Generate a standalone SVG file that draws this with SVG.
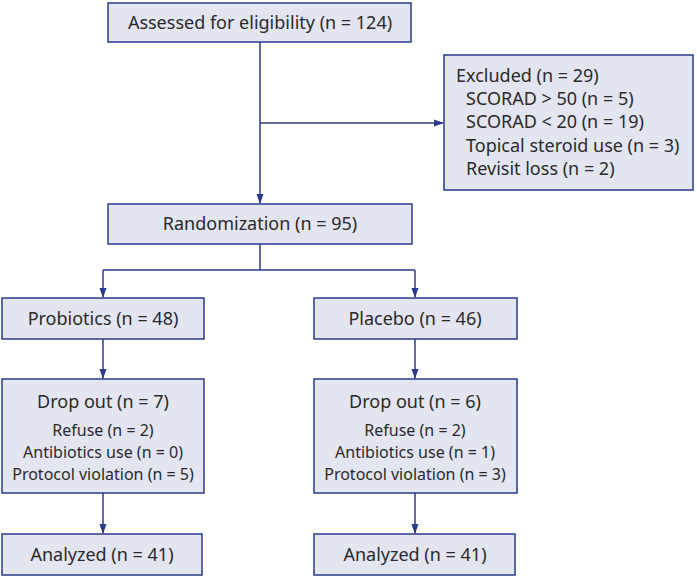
<svg xmlns="http://www.w3.org/2000/svg" width="697" height="577" viewBox="0 0 697 577">
<defs>
<marker id="ah" markerWidth="10" markerHeight="10" refX="9" refY="5" orient="auto" markerUnits="userSpaceOnUse">
<path d="M0,1.5 L10,5 L0,8.5 Z" fill="#2b3a8c"/>
</marker>
<style>
.box{fill:#e3e5f1;stroke:#2b3a8c;stroke-width:1.5}
.t{font-family:"Noto Sans","DejaVu Sans",sans-serif;font-size:18px;fill:#2a2a2a}
.s{font-family:"Noto Sans","DejaVu Sans",sans-serif;font-size:16px;fill:#2a2a2a}
.c{text-anchor:middle}
.ln{stroke:#2b3a8c;stroke-width:1.5;fill:none}
</style>
</defs>
<rect width="697" height="577" fill="#fff"/>
<g id="connectors">
<path class="ln" d="M260,42 V203" marker-end="url(#ah)"/>
<path class="ln" d="M260,123 H443" marker-end="url(#ah)"/>
<path class="ln" d="M260,244 V270 M103,270 H415"/>
<path class="ln" d="M103,270 V297" marker-end="url(#ah)"/>
<path class="ln" d="M415,270 V297" marker-end="url(#ah)"/>
<path class="ln" d="M103,339 V378" marker-end="url(#ah)"/>
<path class="ln" d="M415,339 V378" marker-end="url(#ah)"/>
<path class="ln" d="M103,493 V533" marker-end="url(#ah)"/>
<path class="ln" d="M415,493 V533" marker-end="url(#ah)"/>
</g>
<g id="assessed">
<rect class="box" x="108" y="3" width="303" height="39"/>
<text class="t c" x="260" y="29">Assessed for eligibility (n = 124)</text>
</g>
<g id="excluded">
<rect class="box" x="444" y="55" width="249" height="135"/>
<text class="t" x="456" y="82">Excluded (n = 29)</text>
<text class="t" x="466" y="105">SCORAD &gt; 50 (n = 5)</text>
<text class="t" x="466" y="128">SCORAD &lt; 20 (n = 19)</text>
<text class="t" x="466" y="152">Topical steroid use (n = 3)</text>
<text class="t" x="466" y="175">Revisit loss (n = 2)</text>
</g>
<g id="randomization">
<rect class="box" x="108" y="204" width="304" height="40"/>
<text class="t c" x="260" y="230">Randomization (n = 95)</text>
</g>
<g id="probiotics">
<rect class="box" x="2" y="298" width="202" height="41"/>
<text class="t c" x="103" y="325">Probiotics (n = 48)</text>
</g>
<g id="placebo">
<rect class="box" x="314" y="298" width="203" height="41"/>
<text class="t c" x="415" y="325">Placebo (n = 46)</text>
</g>
<g id="dropout1">
<rect class="box" x="2" y="379" width="202" height="114"/>
<text class="t c" x="103" y="408">Drop out (n = 7)</text>
<text class="s c" x="103" y="436">Refuse (n = 2)</text>
<text class="s c" x="103" y="458">Antibiotics use (n = 0)</text>
<text class="s c" x="103" y="480">Protocol violation (n = 5)</text>
</g>
<g id="dropout2">
<rect class="box" x="314" y="379" width="203" height="114"/>
<text class="t c" x="415" y="408">Drop out (n = 6)</text>
<text class="s c" x="415" y="436">Refuse (n = 2)</text>
<text class="s c" x="415" y="458">Antibiotics use (n = 1)</text>
<text class="s c" x="415" y="480">Protocol violation (n = 3)</text>
</g>
<g id="analyzed1">
<rect class="box" x="2" y="534" width="200" height="41"/>
<text class="t c" x="102" y="561">Analyzed (n = 41)</text>
</g>
<g id="analyzed2">
<rect class="box" x="314" y="534" width="201" height="41"/>
<text class="t c" x="415" y="561">Analyzed (n = 41)</text>
</g>
</svg>
